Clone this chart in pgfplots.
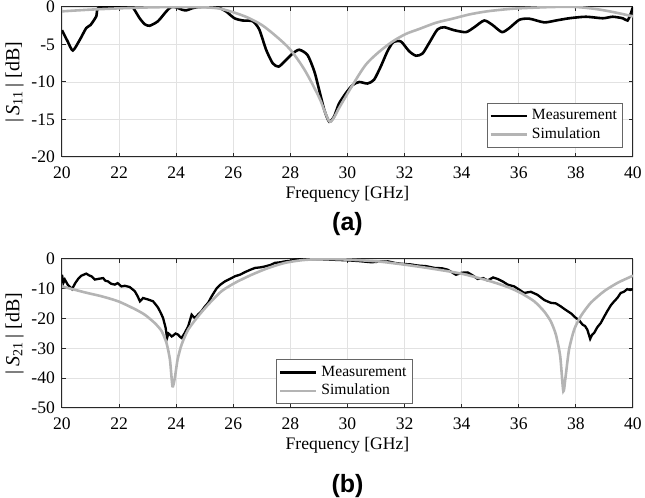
\documentclass[border=0pt]{standalone}
\usepackage{fontspec}
\setmainfont{Liberation Serif}
\newfontfamily\capfont{Liberation Sans}
\usepackage{pgfplots}
\pgfplotsset{compat=1.18}
\definecolor{simgray}{RGB}{180,180,180}
\definecolor{gridgray}{RGB}{226,226,226}
\definecolor{boxgray}{RGB}{40,40,40}
\begin{document}
\begin{tikzpicture}
\pgfplotsset{
  every axis/.append style={
    scale only axis,
    width=285.5pt,
    xmin=20, xmax=40,
    xtick={20,22,...,40},
    grid=major,
    major grid style={gridgray, line width=0.4pt},
    axis line style={boxgray, line width=0.5pt},
    tick style={boxgray, line width=0.5pt},
    tick align=inside,
    major tick length=2pt,
    /pgf/number format/assume math mode=true,
    tick label style={font=\fontsize{8.8}{10}\selectfont},
    xticklabel style={yshift=-1.5pt},
    label style={font=\fontsize{8.8}{10}\selectfont},
    xlabel={Frequency [GHz]},
    xlabel style={yshift=3pt},
    ylabel style={yshift=-3pt, font=\fontsize{10}{11}\selectfont},
    legend cell align=left,
    legend style={font=\fontsize{7.8}{8.5}\selectfont, draw=black!60, line width=0.4pt,
      inner sep=1pt, row sep=-1.5pt},
    legend image code/.code={\draw[#1] (0pt,0pt) -- (18pt,0pt);},
  },
}
\begin{axis}[
  name=top,
  height=75pt,
  ymin=-20, ymax=0,
  ytick={-20,-15,...,0},
  ylabel={|\,\textit{S}\textsubscript{11}\,| [dB]},
  legend style={at={(0.983,0.06)}, anchor=south east},
]
\addplot[black, line width=1.3pt, smooth, tension=0.4] coordinates {
(20,-3.1)(20.2,-4.6)(20.38,-5.8)(20.62,-4.4)(20.85,-2.8)(21.0,-2.4)(21.2,-1.25)(21.32,0)(22.4,0)
(22.5,-0.15)(22.72,-1.5)(22.9,-2.3)(23.07,-2.5)(23.36,-1.9)(23.65,-0.6)(23.82,0)(24.0,-0.05)
(24.2,-0.35)(24.35,-0.45)(24.58,-0.15)(24.8,0)(25.3,0)(25.5,-0.1)(25.75,-0.6)(26.04,-1.5)
(26.33,-1.8)(26.68,-1.9)(26.91,-3.0)(27.15,-5.7)(27.38,-7.5)(27.59,-7.95)(27.85,-7.05)(28.08,-6.2)
(28.31,-5.7)(28.6,-6.4)(28.84,-8.6)(29.01,-11.1)(29.19,-13.75)(29.36,-15.3)(29.53,-14.6)(29.7,-12.9)
(29.94,-11.5)(30.18,-10.4)(30.41,-10.0)(30.7,-10.2)(30.93,-9.7)(31.17,-7.9)(31.4,-5.9)(31.6,-4.7)
(31.87,-4.6)(32.16,-5.9)(32.4,-6.5)(32.63,-6.2)(32.86,-4.8)(33.15,-3.0)(33.39,-2.7)(33.74,-3.1)
(34.15,-3.35)(34.44,-2.7)(34.79,-1.8)(35.08,-2.4)(35.41,-3.35)(35.67,-2.8)(36.02,-1.7)(36.37,-1.56)
(36.89,-2.05)(37.3,-1.8)(37.77,-1.5)(38.35,-1.3)(38.94,-1.5)(39.29,-1.3)(39.64,-1.5)(39.81,-1.8)
(39.93,-0.8)(40,0)
};
\addlegendentry{Measurement}
\addplot[simgray, line width=1.3pt, smooth, tension=0.5] coordinates {
(20,-0.58)(21,-0.35)(22,-0.18)(23,-0.06)(24,0)(25,-0.05)(25.5,-0.2)(26,-0.7)(26.5,-1.4)
(27,-2.4)(27.5,-3.9)(28,-5.7)(28.5,-8.4)(29,-12)(29.2,-13.9)(29.38,-15.3)(29.55,-14.6)(29.7,-13.5)
(30.18,-10.4)(30.64,-7.7)(31.1,-6.0)(31.58,-4.6)(32.04,-3.6)(32.5,-2.95)(33.1,-2.1)(33.68,-1.56)
(34.26,-1.0)(34.85,-0.6)(35.43,-0.35)(36.0,-0.18)(37.2,0)(38.0,0)(38.7,-0.27)(39.3,-0.67)(40,-1.25)
};
\addlegendentry{Simulation}
\end{axis}
\node[font=\capfont\bfseries\fontsize{12.5}{14}\selectfont] at ([yshift=-33.5pt]top.south) {(a)};

\begin{axis}[
  name=bot,
  at={(0,-125.5pt)},
  height=74.5pt,
  ymin=-50, ymax=0,
  ytick={-50,-40,...,0},
  ylabel={|\,\textit{S}\textsubscript{21}\,| [dB]},
  legend style={at={(0.495,0.025)}, anchor=south},
]
\addplot[black, line width=1.15pt] coordinates {
(20,-5.3)(20.05,-8)(20.1,-6.9)(20.2,-8.6)(20.35,-10.1)(20.47,-8)(20.58,-6.5)(20.68,-5.6)(20.85,-4.9)
(20.95,-5.5)(21.03,-5.8)(21.15,-6.9)(21.26,-6.7)(21.44,-6.4)(21.52,-7.3)(21.61,-7.5)(21.72,-8.3)(21.85,-8.6)
(21.95,-8.1)(22.08,-9.2)(22.2,-9.0)(22.37,-9.4)(22.55,-10.8)(22.65,-12.5)(22.73,-14.2)(22.84,-13.1)
(23.02,-13.6)(23.19,-14.2)(23.3,-15.5)(23.37,-16.4)(23.47,-18.3)(23.54,-19.8)(23.63,-23.1)(23.68,-26.5)
(23.73,-25.0)(23.78,-25.4)(23.84,-26.0)(23.89,-25.7)(23.98,-25.0)(24.07,-25.4)(24.12,-26.0)(24.19,-26.5)
(24.3,-24.8)(24.42,-22.6)(24.54,-18.7)(24.65,-19.8)(24.78,-18.5)(24.89,-17.5)(25.0,-16.0)(25.12,-14.7)
(25.25,-12.4)(25.42,-9.8)(25.55,-8.6)(25.71,-7.5)(25.9,-6.6)(26.06,-5.8)(26.25,-5.2)(26.41,-4.4)
(26.6,-3.6)(26.76,-3.0)(26.95,-2.8)(27.11,-2.5)(27.3,-2.0)(27.46,-1.3)(27.65,-1.1)(27.81,-0.8)
(28.0,-0.6)(28.16,-0.2)(28.51,0)(29.1,-0.1)(29.6,-0.3)(30.0,-0.45)(30.4,-0.7)(30.84,-1.1)(31.1,-0.9)
(31.42,-0.8)(31.65,-1.3)(31.88,-1.6)(32.2,-1.8)(32.47,-2.2)(32.75,-2.4)(33.05,-3.0)(33.3,-3.1)
(33.51,-3.6)(33.8,-5.3)(34.0,-4.6)(34.21,-4.5)(34.4,-5.6)(34.56,-6.7)(34.75,-6.4)(34.91,-7.2)
(35.1,-6.2)(35.26,-6.7)(35.45,-7.6)(35.61,-8.6)(35.84,-9.2)(36.0,-10.2)(36.19,-11.4)(36.42,-11.0)
(36.65,-12.0)(36.9,-13.8)(37.12,-14.7)(37.3,-14.9)(37.47,-15.9)(37.6,-16.8)(37.71,-17.5)(37.85,-18.4)
(38.0,-19.8)(38.1,-20.4)(38.23,-22.0)(38.32,-22.5)(38.4,-23.7)(38.5,-26.8)(38.57,-25.4)(38.64,-24.8)
(38.75,-22.9)(38.87,-21.5)(39.0,-19.2)(39.1,-17.5)(39.22,-15.6)(39.34,-14.2)(39.45,-13.1)(39.57,-11.4)
(39.68,-11.0)(39.8,-10.1)(39.9,-10.4)(40,-10.1)
};
\addlegendentry{Measurement}
\addplot[simgray, line width=1.3pt, smooth, tension=0.4] coordinates {
(20,-9.2)(20.8,-11.2)(21.38,-12.5)(21.97,-14.2)(22.55,-16.8)(22.9,-18.7)(23.25,-21.5)(23.49,-24.2)
(23.66,-28.2)(23.78,-33.7)(23.87,-42.7)(23.95,-40)(24.05,-33.7)(24.19,-28.7)(24.42,-23.7)
(24.77,-19.2)(25.12,-15.3)(25.59,-10.8)(26.06,-8)(26.64,-5.3)(27.23,-3.0)(27.81,-1.3)(28.4,-0.4)
(29.1,0)(30.0,-0.2)(31.05,-0.8)(32.0,-1.9)(32.93,-3.2)(33.98,-4.9)(34.91,-7.2)(35.61,-9.4)
(36.07,-11.4)(36.54,-14.2)(36.88,-17.5)(37.12,-20.9)(37.3,-25.4)(37.45,-32.6)(37.56,-44.4)
(37.64,-39.4)(37.76,-30.4)(37.94,-23.7)(38.17,-19.2)(38.52,-14.7)(38.99,-10.8)(39.46,-8)(40,-5.6)
};
\addlegendentry{Simulation}
\end{axis}
\node[font=\capfont\bfseries\fontsize{12.5}{14}\selectfont] at ([yshift=-39pt]bot.south) {(b)};

\pgfresetboundingbox
\path ([xshift=-31pt, yshift=3.5pt]top.north west) rectangle ([xshift=291.5pt, yshift=-245.5pt]top.north west);
\end{tikzpicture}
\end{document}
